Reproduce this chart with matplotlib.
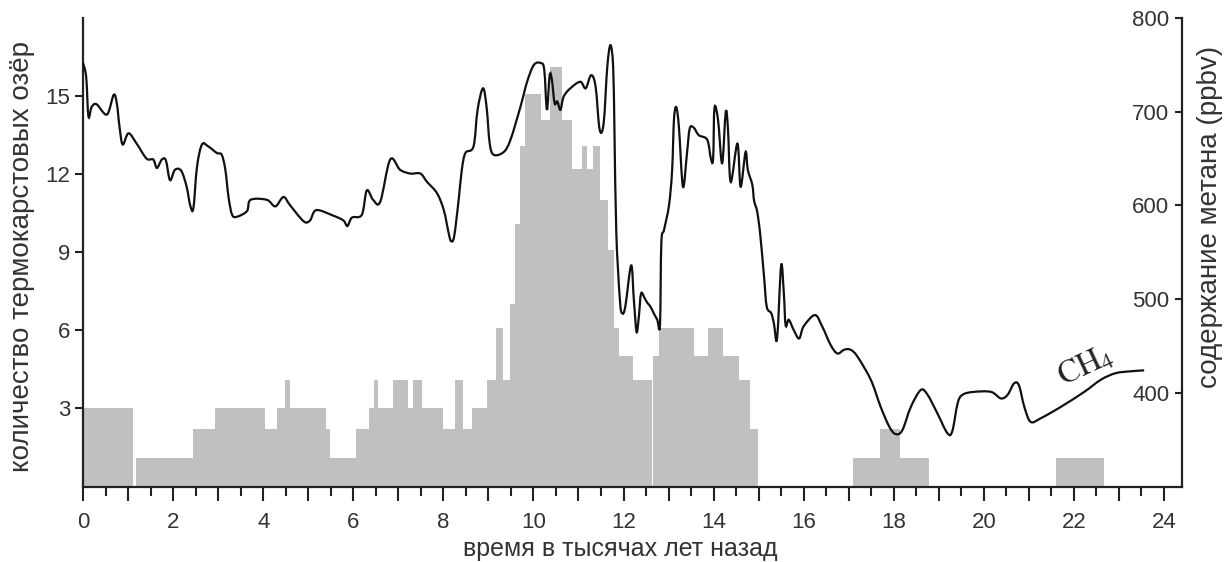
import numpy as np
import matplotlib
matplotlib.use("Agg")
import matplotlib.pyplot as plt
from matplotlib.ticker import MultipleLocator
from matplotlib.path import Path
from matplotlib.patches import PathPatch

plt.rcParams['font.family'] = ['Liberation Sans', 'DejaVu Sans']
plt.rcParams['mathtext.fontset'] = 'stix'

# число термокарстовых озёр (гистограмма): начало, конец интервала, количество
lake_start = [0.00, 1.17, 2.34, 2.44, 2.93, 3.56, 4.04, 4.30, 4.48, 4.60, 5.40, 5.48,
              6.07, 6.36, 6.45, 6.56, 6.88, 7.22, 7.33, 7.52, 8.00, 8.26, 8.43, 8.63,
              8.96, 9.16, 9.33, 9.48, 9.59, 9.70, 9.82, 10.17, 10.37, 10.63, 10.85,
              11.08, 11.20, 11.32, 11.47, 11.66, 11.80, 11.89, 12.20, 12.66, 12.79,
              13.44, 13.56, 13.87, 14.20, 14.56, 14.80, 17.10, 17.70, 18.15, 21.60]
lake_end = [1.11, 2.32, 2.44, 2.93, 3.55, 4.04, 4.30, 4.48, 4.60, 5.40, 5.48, 6.07,
            6.36, 6.45, 6.56, 6.88, 7.22, 7.33, 7.52, 8.00, 8.26, 8.43, 8.63, 8.96,
            9.16, 9.33, 9.48, 9.59, 9.70, 9.82, 10.17, 10.37, 10.63, 10.85, 11.08,
            11.20, 11.32, 11.47, 11.66, 11.80, 11.89, 12.20, 12.63, 12.79, 13.43,
            13.56, 13.87, 14.20, 14.56, 14.80, 14.98, 17.70, 18.15, 18.78, 22.67]
lake_count = [3.0, 1.1, 1.1, 2.2, 3.0, 3.0, 2.2, 3.0, 4.1, 3.0, 2.2, 1.1,
              2.2, 3.0, 4.1, 3.0, 4.1, 3.0, 4.1, 3.0, 2.2, 4.1, 2.2, 3.0,
              4.1, 6.1, 4.1, 7.0, 10.1, 13.1, 15.1, 14.1, 16.1, 14.1, 12.2,
              13.1, 12.2, 13.1, 11.0, 9.1, 6.1, 5.0, 4.1, 5.0, 6.1,
              6.1, 5.0, 6.1, 5.0, 4.1, 2.2, 1.1, 2.2, 1.1, 1.1]

# метан (ppbv)
ch4_age = [0.00, 0.07, 0.12, 0.19, 0.30, 0.53, 0.68, 0.75, 0.81, 0.88, 1.01, 1.19,
           1.41, 1.56, 1.64, 1.75, 1.84, 1.93, 2.04, 2.18, 2.30, 2.38, 2.45, 2.53,
           2.64, 2.78, 2.97, 3.08, 3.16, 3.23, 3.31, 3.42, 3.64, 3.72, 4.08, 4.27,
           4.45, 4.60, 4.90, 5.04, 5.18, 5.56, 5.78, 5.87, 5.97, 6.19, 6.30, 6.44,
           6.60, 6.82, 7.04, 7.27, 7.49, 7.64, 7.86, 8.01, 8.12, 8.17, 8.24, 8.34,
           8.41, 8.49, 8.67, 8.76, 8.88, 8.96, 9.03, 9.12, 9.34, 9.49, 9.71, 9.86,
           10.01, 10.16, 10.24, 10.30, 10.36, 10.41, 10.47, 10.53, 10.60, 10.67,
           10.82, 11.04, 11.16, 11.28, 11.38, 11.47, 11.56, 11.64, 11.71, 11.77,
           11.80, 11.84, 11.92, 11.97, 12.04, 12.17, 12.23, 12.29, 12.34, 12.39,
           12.47, 12.53, 12.60, 12.67, 12.75, 12.81, 12.84, 12.90, 13.01, 13.08,
           13.12, 13.17, 13.23, 13.32, 13.41, 13.47, 13.56, 13.67, 13.86, 13.94,
           13.99, 14.02, 14.10, 14.19, 14.27, 14.32, 14.38, 14.53, 14.60, 14.71,
           14.76, 14.86, 14.90, 14.97, 15.04, 15.12, 15.18, 15.28, 15.34, 15.41,
           15.50, 15.56, 15.60, 15.67, 15.78, 15.90, 16.00, 16.25, 16.41, 16.60,
           16.75, 16.90, 17.04, 17.19, 17.49, 17.71, 17.90, 18.04, 18.19, 18.38,
           18.60, 18.75, 18.97, 19.19, 19.30, 19.42, 19.53, 19.78, 20.16, 20.38,
           20.53, 20.67, 20.78, 20.90, 21.04, 21.27, 21.71, 22.23, 22.60, 22.93,
           23.27, 23.56]
ch4_ppbv = [752, 737, 695, 705, 708, 697, 718, 709, 684, 665, 677, 666,
            650, 649, 640, 649, 648, 627, 638, 637, 620, 600, 597, 641,
            665, 663, 656, 654, 638, 609, 590, 588, 594, 606, 606, 599,
            609, 600, 583, 584, 595, 589, 584, 578, 587, 590, 616, 606,
            604, 649, 638, 634, 634, 625, 613, 595, 570, 562, 567, 606,
            638, 656, 663, 702, 725, 705, 666, 654, 657, 670, 705, 732,
            750, 752, 745, 702, 739, 734, 709, 711, 702, 716,
            725, 732, 725, 739, 727, 681, 688, 748, 771, 748,
            677, 571, 499, 485, 492, 536, 499, 465, 481, 506,
            501, 496, 492, 485, 478, 472, 560, 574, 600, 638,
            691, 705, 684, 620, 656, 682, 683, 675, 670, 650,
            650, 704, 691, 645, 700, 681, 625, 666, 620, 657,
            638, 622, 605, 593, 567, 524, 492, 485, 474, 458,
            536, 506, 472, 478, 467, 458, 471, 483, 471, 451,
            442, 446, 446, 439, 414, 385, 364, 356, 360, 385,
            403, 398, 378, 357, 359, 389, 398, 401, 401, 394,
            398, 410, 408, 385, 369, 373, 385, 401, 414, 421,
            423, 424]

text_color = '#333333'
axis_color = '#222222'


def smooth_path(xs, ys):
    # кривая Безье через прочитанные точки (Catmull-Rom), чтобы линия была гладкой
    p = np.column_stack([xs, ys]).astype(float)
    verts = [p[0]]
    codes = [Path.MOVETO]
    n = len(p)
    for i in range(n - 1):
        p0 = p[i - 1] if i > 0 else p[i]
        p3 = p[i + 2] if i + 2 < n else p[i + 1]
        verts += [p[i] + (p[i + 1] - p0) / 6, p[i + 1] - (p3 - p[i]) / 6, p[i + 1]]
        codes += [Path.CURVE4] * 3
    return Path(verts, codes)


fig = plt.figure(figsize=(12.32, 5.62), dpi=100)
ax = fig.add_axes([0.0674, 0.1343, 0.892, 0.8336])

ax.bar(lake_start, lake_count, width=np.subtract(lake_end, lake_start),
       align='edge', color='#c0c0c0', linewidth=0, zorder=1)

ax.set_xlim(0, 24.4)
ax.set_ylim(0, 18)
major_x = np.arange(0, 24.01, 1)
ax.set_xticks(major_x)
ax.set_xticklabels([str(int(v)) if int(v) % 2 == 0 else '' for v in major_x])
ax.xaxis.set_minor_locator(MultipleLocator(0.5))
ax.set_yticks([3, 6, 9, 12, 15])
ax.tick_params(axis='x', which='major', length=10, width=1.5, pad=8,
               labelsize=16, colors=axis_color, labelcolor=text_color)
ax.tick_params(axis='x', which='minor', length=6.5, width=1.5, colors=axis_color)
ax.tick_params(axis='y', length=6, width=1.5, pad=3, labelsize=16,
               colors=axis_color, labelcolor=text_color)

for side in ['top', 'right']:
    ax.spines[side].set_visible(False)
for side in ['left', 'bottom']:
    ax.spines[side].set_linewidth(1.6)
    ax.spines[side].set_color(axis_color)

ax.set_xlabel('время в тысячах лет назад', fontsize=18, color=text_color)
ax.xaxis.set_label_coords(0.489, -0.108)
ax.set_ylabel('количество термокарстовых озёр', fontsize=20, color=text_color)
ax.yaxis.set_label_coords(-0.044, 0.49)

ax2 = ax.twinx()
ax2.set_ylim(300, 800)
ax2.add_patch(PathPatch(smooth_path(ch4_age, ch4_ppbv), fill=False,
                        edgecolor='#111111', linewidth=1.6))
ax2.set_yticks([400, 500, 600, 700, 800])
for side in ['top', 'bottom', 'right']:
    ax2.spines[side].set_visible(False)
ax2.spines['left'].set_position(('axes', 1.0))
ax2.spines['left'].set_linewidth(1.6)
ax2.spines['left'].set_color(axis_color)
ax2.yaxis.set_ticks_position('left')
ax2.yaxis.set_label_position('right')
ax2.tick_params(axis='y', length=5, width=1.5, pad=4, labelsize=16,
                colors=axis_color, labelcolor=text_color)
ax2.set_ylabel('содержание метана (ppbv)', fontsize=20, color=text_color)
ax2.yaxis.set_label_coords(1.014, 0.575)

ax2.text(22.26, 428, r'$\mathrm{CH_4}$', rotation=25, fontsize=23,
         ha='center', va='center', color=axis_color)

fig.savefig('out.png', dpi=100)
